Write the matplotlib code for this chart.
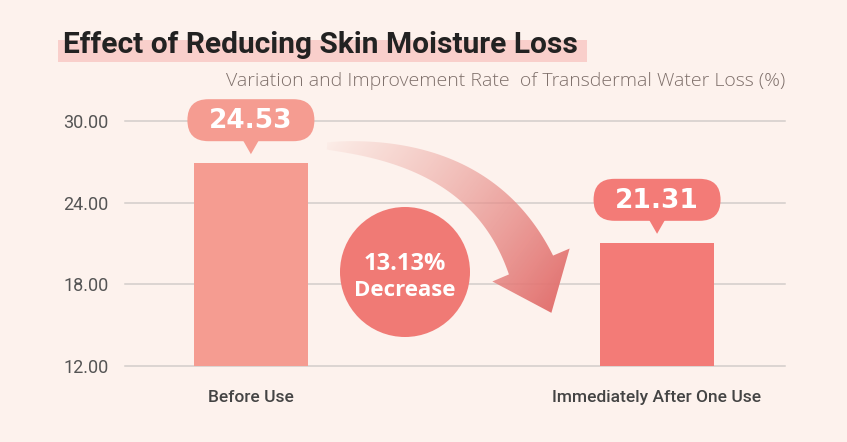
import numpy as np
import matplotlib.pyplot as plt
from matplotlib.patches import FancyBboxPatch, Polygon, Circle, Rectangle

plt.rcParams['font.family'] = ['Roboto', 'DejaVu Sans']

# data
categories = ['Before Use', 'Immediately After One Use']
bar_heights = [26.9, 21.05]          # bar tops as drawn in the picture
value_labels = ['24.53', '21.31']
y_ticks = [12, 18, 24, 30]
decrease_pct = '13.13%'
decrease_word = 'Decrease'

title = 'Effect of Reducing Skin Moisture Loss'
subtitle = 'Variation and Improvement Rate  of Transdermal Water Loss (%)'

bg = '#fdf2ed'
bar_colors = ['#f59c91', '#f37b77']
circle_color = '#f07a75'

W, H = 847, 442
fig = plt.figure(figsize=(W / 100, H / 100), dpi=100)
fig.patch.set_facecolor(bg)

# main chart
ax = fig.add_axes([125 / W, 1 - 366 / H, 660 / W, 245 / H])
ax.set_facecolor(bg)
x = np.arange(len(categories))
ax.bar(x, bar_heights, width=0.28, color=bar_colors, zorder=2)
ax.set_xlim(-0.31, 1.315)
ax.set_ylim(12, 30)
ax.set_yticks(y_ticks)
ax.set_yticklabels([f'{v:.2f}' for v in y_ticks])
ax.set_xticks(x, categories)
ax.yaxis.grid(True, color='#d3cdcb', lw=1.1)
for gl in ax.get_ygridlines():
    gl.set_clip_on(False)
ax.set_axisbelow(True)
for s in ax.spines.values():
    s.set_visible(False)
ax.tick_params(axis='y', length=0, pad=12, labelsize=13, labelcolor='#555555')
ax.tick_params(axis='x', length=0, pad=17, labelsize=12.5, labelcolor='#444444')
for lab in ax.get_xticklabels():
    lab.set_fontweight('medium')

# overlay in pixel coords (y down)
ov = fig.add_axes([0, 0, 1, 1])
ov.set_xlim(0, W)
ov.set_ylim(H, 0)
ov.axis('off')
ov.patch.set_alpha(0)

# title + highlight
ov.add_patch(Rectangle((58, 40), 529, 22, fc='#f9cfcb', ec='none', zorder=1))
ov.text(63, 53, title, ha='left', va='baseline', fontsize=21.5, fontweight='bold',
        color='#222222', family=['Roboto'], zorder=2)
ov.text(785, 81, subtitle, ha='right', va='center', fontsize=14,
        fontweight='light', color='#7f706b', family=['Open Sans', 'DejaVu Sans'])

# value bubbles
def bubble(cx, tip_y, text, color):
    bottom = tip_y - 13
    top = bottom - 42
    ov.add_patch(FancyBboxPatch((cx - 63.5, top), 127, 42,
                                boxstyle='round,pad=0,rounding_size=21',
                                fc=color, ec='none', zorder=4))
    ov.add_patch(Polygon([(cx - 8, bottom - 1), (cx + 8, bottom - 1), (cx, tip_y)],
                         closed=True, fc=color, ec='none', zorder=4))
    ov.text(cx, (top + bottom) / 2 + 1, text, ha='center', va='center',
            fontsize=19, fontweight='bold', color='white',
            family='DejaVu Sans', zorder=5)

for xi, h, lab, c in zip(x, bar_heights, value_labels, bar_colors):
    px, py = ax.transData.transform((xi, h))
    bubble(px, H - py - 9, lab, c)

# curved gradient arrow
p0 = np.array([327.0, 146.0])
p1 = np.array([482.0, 150.0])
p2 = np.array([531.0, 265.0])
t = np.linspace(0, 1, 80)[:, None]
pts = (1 - t) ** 2 * p0 + 2 * (1 - t) * t * p1 + t ** 2 * p2
tan = 2 * (1 - t) * (p1 - p0) + 2 * t * (p2 - p1)
tan = tan / np.linalg.norm(tan, axis=1, keepdims=True)
nrm = np.column_stack([tan[:, 1], -tan[:, 0]])
w = (7 + 41 * t ** 0.8) / 2
edge_a = pts + nrm * w
edge_b = pts - nrm * w
d = tan[-1]
n_end = nrm[-1]
tip = p2 + d * 52
barb_a = p2 + n_end * 42
barb_b = p2 - n_end * 42
arrow_pts = np.vstack([edge_a, barb_a, tip, barb_b, edge_b[::-1]])
arrow_poly = Polygon(arrow_pts, closed=True, fc='none', ec='none', transform=ov.transData)

yy, xx = np.mgrid[0:H, 0:W] + 0.5
dv = tip - p0
tt = ((xx - p0[0]) * dv[0] + (yy - p0[1]) * dv[1]) / (dv @ dv)
tt = np.clip(tt, 0, 1)[..., None]
c0 = np.array([240, 186, 178]) / 255
c1 = np.array([226, 112, 110]) / 255
rgb = c0 * (1 - tt) + c1 * tt
alpha = 0.08 + 0.9 * tt ** 0.7
img = np.concatenate([rgb, np.clip(alpha, 0, 1)], axis=2)
im = ov.imshow(img, extent=(0, W, H, 0), origin='upper', aspect='auto', zorder=3)
im.set_clip_path(arrow_poly)
ov.set_xlim(0, W)
ov.set_ylim(H, 0)

# decrease circle
ov.add_patch(Circle((405, 272), 65, fc=circle_color, ec='none', zorder=4))
ov.text(405, 264, decrease_pct, ha='center', va='center', fontsize=17,
        fontweight='bold', color='white', family=['Open Sans', 'DejaVu Sans'], zorder=5)
ov.text(405, 291, decrease_word, ha='center', va='center', fontsize=16,
        fontweight='bold', color='white', family=['Open Sans', 'DejaVu Sans'], zorder=5)

fig.savefig('out.png', dpi=100, facecolor=bg)
